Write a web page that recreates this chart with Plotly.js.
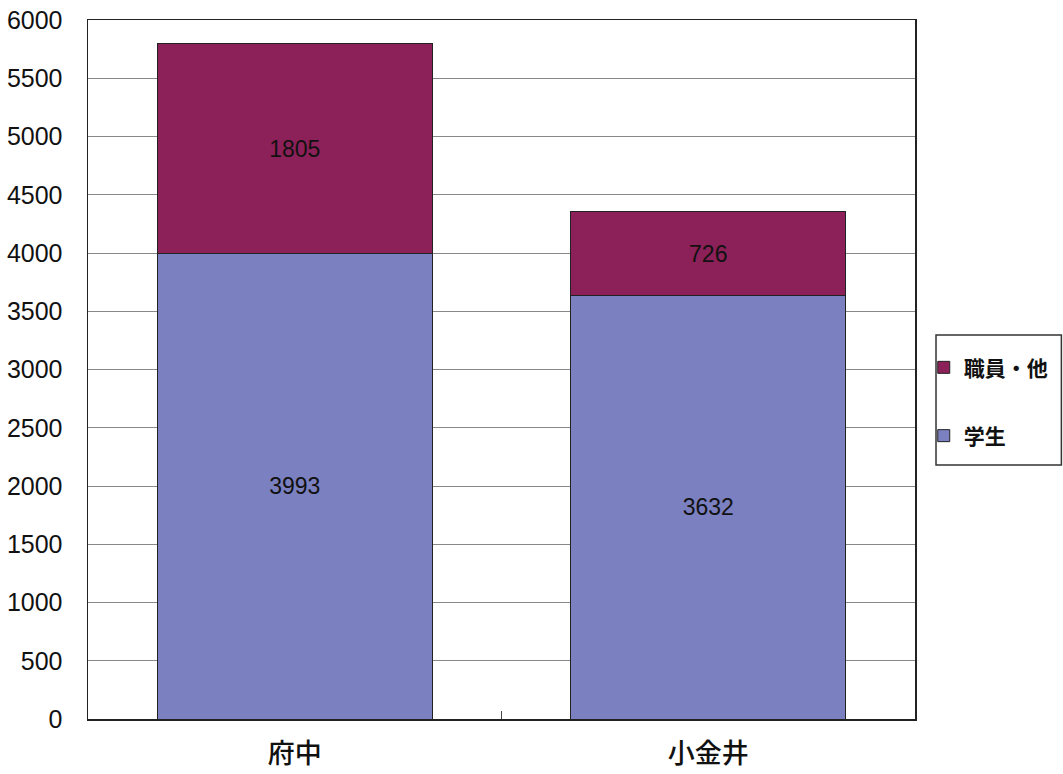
<!DOCTYPE html>
<html>
<head>
<meta charset="utf-8">
<script src="https://cdn.plot.ly/plotly-3.0.1.min.js"></script>
<style>html,body{margin:0;padding:0;background:#fff;}#chart{width:1063px;height:774px;}</style>
</head>
<body>
<div id="chart"></div>
<script>
const categories = ["府中", "小金井"];
const students = [3993, 3632];
const staff = [1805, 726];
const seriesNames = ["学生", "職員・他"];
const yTicks = [0, 500, 1000, 1500, 2000, 2500, 3000, 3500, 4000, 4500, 5000, 5500, 6000];

const labelFont = {family: "Liberation Sans, Arial, sans-serif", size: 23, color: "#111"};
const traces = [
  {type: "bar", name: seriesNames[0], legendgroup: "g1", legendrank: 2, x: categories, y: students,
   text: students.map(String), textposition: "inside", insidetextanchor: "middle",
   textfont: labelFont, constraintext: "none",
   marker: {color: "#7b80c0", line: {color: "#222", width: 1}}},
  {type: "bar", name: seriesNames[1], legendgroup: "g2", legendrank: 1, x: categories, y: staff,
   text: staff.map(String), textposition: "inside", insidetextanchor: "middle",
   textfont: labelFont, constraintext: "none",
   marker: {color: "#8c2058", line: {color: "#222", width: 1}}}
];
const layout = {
  width: 1063, height: 774,
  margin: {l: 88, r: 148, t: 20, b: 55},
  paper_bgcolor: "#fff", plot_bgcolor: "#fff",
  barmode: "stack", bargap: 0.335,
  showlegend: true,
  legend: {xref: "container", yref: "container", x: 0.869, xanchor: "left", y: 0.481, yanchor: "middle",
           traceorder: "grouped", borderwidth: 0,
           bgcolor: "rgba(0,0,0,0)", tracegroupgap: 38, itemwidth: 30,
           font: {family: "Noto Sans CJK JP, sans-serif", size: 21, color: "#111", weight: 600}},
  shapes: [{type: "rect", xref: "paper", yref: "paper", x0: 1.0254, x1: 1.177, y0: 0.3634, y1: 0.5494,
            line: {color: "#333", width: 1.5}, fillcolor: "rgba(0,0,0,0)", layer: "below"}],
  xaxis: {type: "category", showline: true, linecolor: "#222", linewidth: 1.5, mirror: true,
          ticks: "inside", tickson: "boundaries", ticklen: 8, tickcolor: "#444",
          tickfont: {family: "Noto Sans CJK JP, sans-serif", size: 27, color: "#111", weight: 500},
          ticklabelstandoff: 10, showgrid: false, fixedrange: true},
  yaxis: {range: [0, 6000], tickvals: yTicks, ticktext: yTicks.map(String),
          showline: true, linecolor: "#222", linewidth: 1.5, mirror: true,
          showgrid: true, gridcolor: "#888", gridwidth: 1, zeroline: false,
          ticks: "", ticklabelstandoff: 19,
          tickfont: {family: "Liberation Sans, Arial, sans-serif", size: 25, color: "#111"}}
};
Plotly.newPlot("chart", traces, layout, {displayModeBar: false, staticPlot: true});
</script>
</body>
</html>
